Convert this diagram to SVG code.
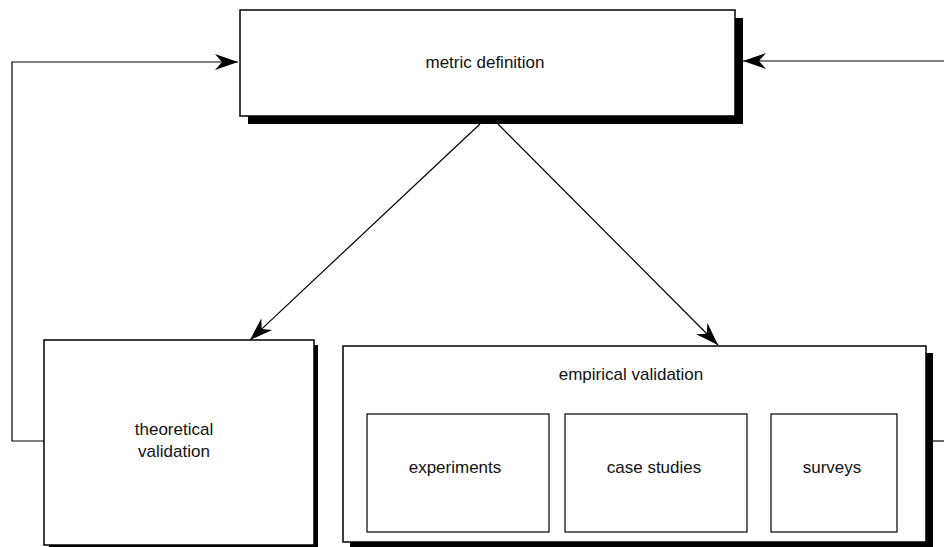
<svg xmlns="http://www.w3.org/2000/svg" width="944" height="547" viewBox="0 0 944 547">
<style>
.box{fill:#fff;stroke:#000;stroke-width:1.5}
.inner{fill:#fff;stroke:#000;stroke-width:1.2}
.shadow{fill:#000}
.lbl{font-family:"Liberation Sans",Arial,sans-serif;font-size:17px;fill:#111;text-anchor:middle}
.conn{fill:none;stroke:#000;stroke-width:1.2}
</style>
<defs>
<marker id="ah" viewBox="-24 -9 25 18" refX="0" refY="0" markerWidth="25" markerHeight="18" markerUnits="userSpaceOnUse" orient="auto">
<path d="M0,0 L-23,-8 L-16,0 L-23,8 Z" fill="#000"/>
</marker>
</defs>
<rect width="944" height="547" fill="#fff"/>
<g id="connectors">
<polyline class="conn" points="44,441 12,441 12,62 238,62" marker-end="url(#ah)"/>
<polyline class="conn" points="933,441 944,441"/>
<line class="conn" x1="944" y1="61" x2="743" y2="61" marker-end="url(#ah)"/>
<line class="conn" x1="480" y1="124" x2="250" y2="340" marker-end="url(#ah)"/>
<line class="conn" x1="498" y1="124" x2="718" y2="345" marker-end="url(#ah)"/>
</g>
<g id="metric-definition">
<rect class="shadow" x="248" y="18" width="495" height="106"/>
<rect class="box" x="240" y="10" width="495" height="106"/>
<text class="lbl" x="485" y="68">metric definition</text>
</g>
<g id="theoretical-validation">
<rect class="shadow" x="49" y="345" width="269" height="205"/>
<rect class="box" x="44" y="340" width="270" height="205"/>
<text class="lbl" x="174" y="435">theoretical</text>
<text class="lbl" x="174" y="457">validation</text>
</g>
<g id="empirical-validation">
<rect class="shadow" x="350" y="353" width="583" height="197"/>
<rect class="box" x="343" y="346" width="583" height="196"/>
<text class="lbl" x="631" y="380">empirical validation</text>
</g>
<g id="experiments">
<rect class="inner" x="367" y="414" width="182" height="118"/>
<text class="lbl" x="455" y="473">experiments</text>
</g>
<g id="case-studies">
<rect class="inner" x="565" y="414" width="182" height="118"/>
<text class="lbl" x="654" y="473">case studies</text>
</g>
<g id="surveys">
<rect class="inner" x="771" y="414" width="126" height="118"/>
<text class="lbl" x="832" y="473">surveys</text>
</g>
</svg>
